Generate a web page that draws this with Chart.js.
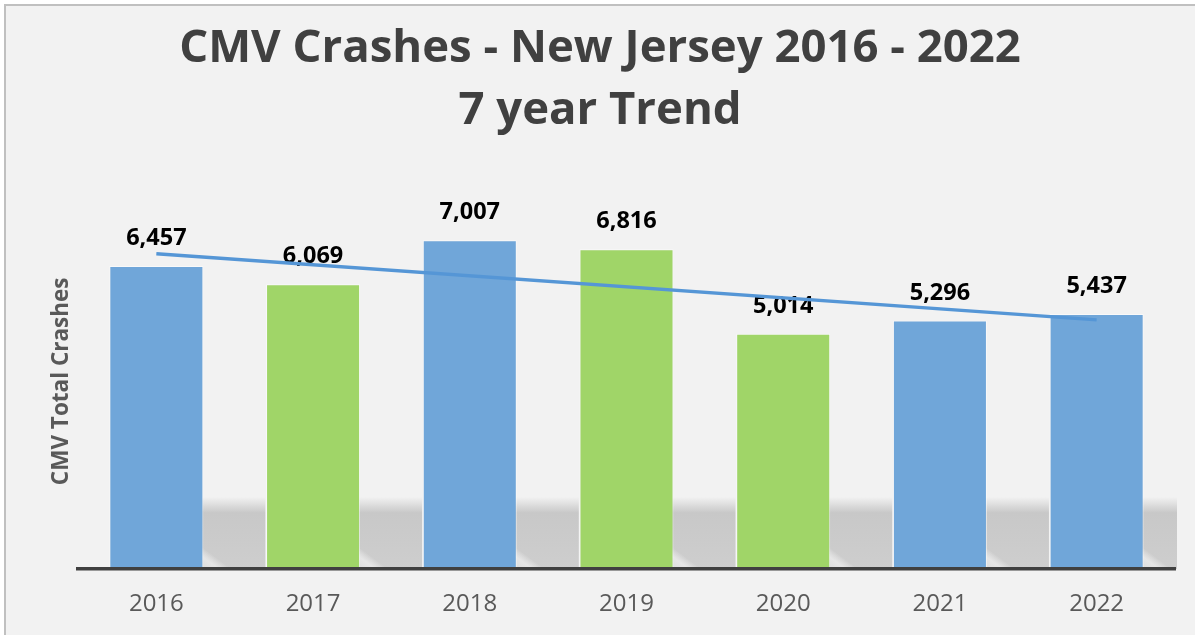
<!DOCTYPE html>
<html>
<head>
<meta charset="utf-8">
<script src="https://cdn.jsdelivr.net/npm/chart.js@4/dist/chart.umd.min.js"></script>
<style>
  html, body { margin: 0; padding: 0; background: #ffffff; }
  #wrap { width: 1195px; height: 635px; }
</style>
</head>
<body>
<div id="wrap"><canvas id="myChart" width="1195" height="635"></canvas></div>
<script>
// Datos
const years = ['2016', '2017', '2018', '2019', '2020', '2021', '2022'];
const crashes = [6457, 6069, 7007, 6816, 5014, 5296, 5437];
// linea de tendencia (inicio y fin)
const trend = [6720, null, null, null, null, null, 5310];
const titleLines = ['CMV Crashes - New Jersey 2016 - 2022', '7 year Trend'];
const yTitle = 'CMV Total Crashes';

const BLUE = '#70a6d9';
const GREEN = '#a0d568';
const barColors = ['blue', 'green', 'blue', 'green', 'green', 'blue', 'blue']
    .map(c => c === 'blue' ? BLUE : GREEN);

// fondo y borde del cuadro
const bgPlugin = {
    id: 'bg',
    beforeDraw(chart) {
        const ctx = chart.ctx;
        ctx.save();
        ctx.fillStyle = '#ffffff';
        ctx.fillRect(0, 0, chart.width, chart.height);
        ctx.fillStyle = '#f2f2f2';
        ctx.fillRect(4, 4, chart.width - 4, chart.height - 4);
        ctx.strokeStyle = '#c0c0c0';
        ctx.lineWidth = 2;
        ctx.beginPath();
        ctx.moveTo(5, chart.height);
        ctx.lineTo(5, 5);
        ctx.lineTo(chart.width, 5);
        ctx.stroke();
        ctx.restore();
    }
};

// sombras detras de las barras
const shadowPlugin = {
    id: 'shadows',
    beforeDatasetsDraw(chart) {
        const ctx = chart.ctx;
        const area = chart.chartArea;
        const meta = chart.getDatasetMeta(0);
        ctx.save();
        ctx.beginPath();
        ctx.rect(area.left, area.top, area.right - area.left + 2, area.bottom - area.top);
        ctx.clip();
        meta.data.forEach(bar => {
            const w = bar.width;
            const x0 = bar.x - w / 2 + 62;
            const top = area.bottom - 72;
            const g = ctx.createLinearGradient(0, top, 0, area.bottom);
            g.addColorStop(0, 'rgba(200,200,200,0)');
            g.addColorStop(0.22, 'rgba(200,200,200,1)');
            g.addColorStop(1, 'rgba(206,206,206,1)');
            ctx.fillStyle = g;
            ctx.fillRect(x0, top, w, area.bottom - top);
            // reflejo diagonal claro
            const d = ctx.createLinearGradient(x0 + 10, area.bottom, x0 + 40, area.bottom - 40);
            d.addColorStop(0, 'rgba(242,242,242,0)');
            d.addColorStop(0.45, 'rgba(236,236,236,0.8)');
            d.addColorStop(0.6, 'rgba(242,242,242,0)');
            ctx.fillStyle = d;
            ctx.fillRect(x0, top, w, area.bottom - top);
        });
        ctx.restore();
    }
};

// etiquetas de valores
const labelPlugin = {
    id: 'valueLabels',
    afterDatasetDraw(chart, args) {
        if (args.index !== 0) return;
        const ctx = chart.ctx;
        ctx.save();
        ctx.font = 'bold 23.5px "Open Sans"';
        ctx.fillStyle = '#000000';
        ctx.textAlign = 'center';
        ctx.textBaseline = 'alphabetic';
        args.meta.data.forEach((bar, i) => {
            ctx.fillText(crashes[i].toLocaleString('en-US'), bar.x, bar.y - 21);
        });
        ctx.restore();
    }
};

const ctx = document.getElementById('myChart').getContext('2d');
const myChart = new Chart(ctx, {
    data: {
        labels: years,
        datasets: [{
            type: 'bar',
            label: 'CMV Total Crashes',
            data: crashes,
            backgroundColor: barColors,
            borderColor: 'rgba(255,255,255,0.55)',
            borderWidth: 1,
            barPercentage: 0.6,
            categoryPercentage: 1.0,
            order: 1
        }, {
            type: 'line',
            label: 'Trend',
            data: trend,
            spanGaps: true,
            borderColor: '#5596d6',
            borderWidth: 3.5,
            pointRadius: 0,
            fill: false,
            order: 0
        }]
    },
    options: {
        responsive: false,
        animation: false,
        layout: { padding: { left: 25, right: 20, top: 0, bottom: -4 } },
        plugins: {
            legend: { display: false },
            tooltip: { enabled: false },
            title: {
                display: true,
                text: titleLines,
                color: '#404040',
                font: { family: '"Open Sans"', size: 45.5, weight: 'bold', lineHeight: 1.37 },
                padding: { top: 18, bottom: 51 }
            }
        },
        scales: {
            x: {
                grid: { display: false, drawTicks: false },
                border: { display: true, color: '#404040', width: 3.5, z: 1 },
                ticks: {
                    color: '#595959',
                    font: { family: '"Open Sans"', size: 24, lineHeight: 1.25 },
                    padding: 20
                }
            },
            y: {
                min: 0,
                max: 8000,
                grid: { display: false, drawTicks: false },
                border: { display: false },
                ticks: { display: false },
                title: {
                    display: true,
                    text: yTitle,
                    color: '#595959',
                    font: { family: '"Open Sans"', size: 22.5, weight: 'bold', lineHeight: 1.2 },
                    padding: { top: 23, bottom: 3 }
                }
            }
        }
    },
    plugins: [bgPlugin, shadowPlugin, labelPlugin]
});
</script>
</body>
</html>
